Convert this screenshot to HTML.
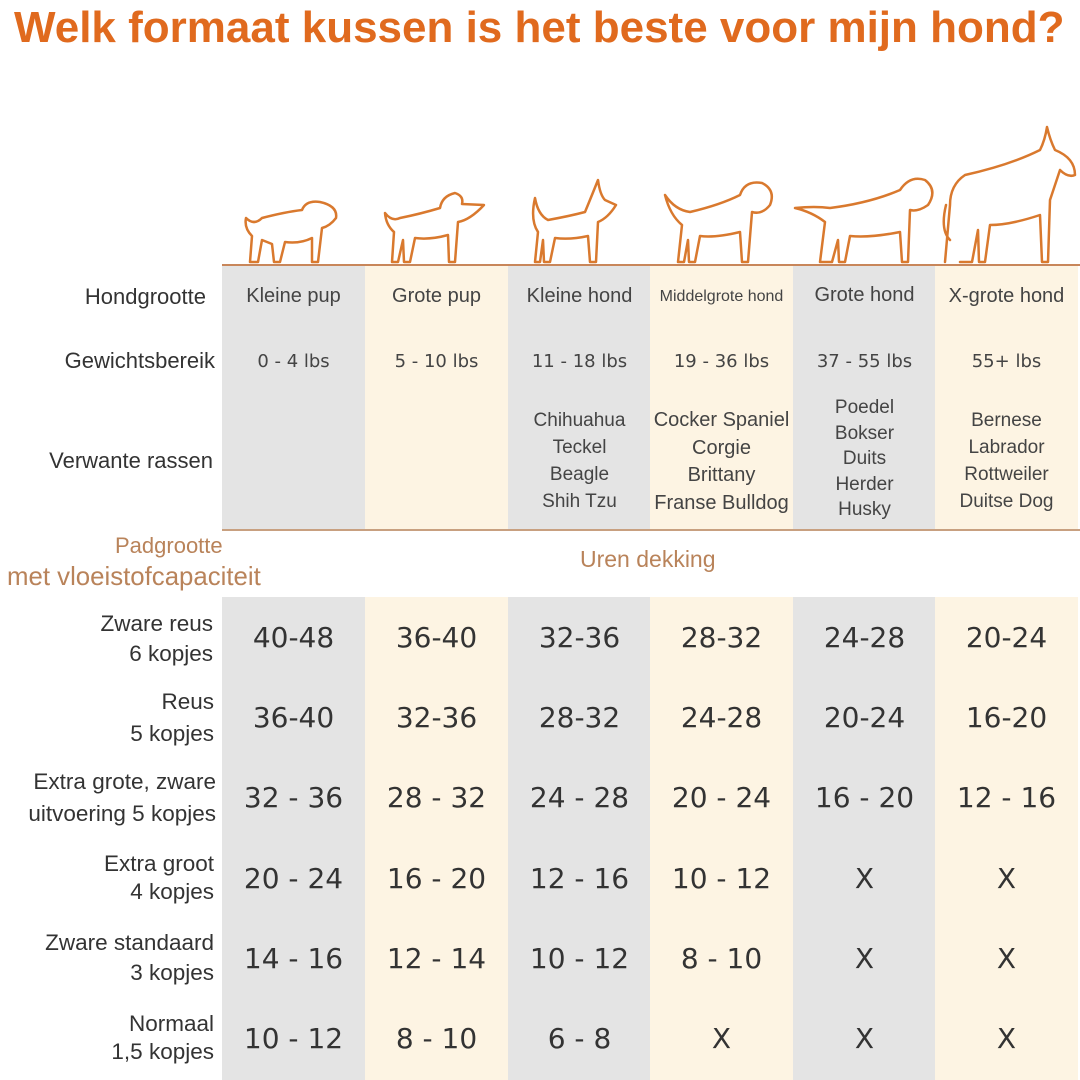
<!DOCTYPE html>
<html><head><meta charset="utf-8"><style>
body{margin:0;width:1080px;height:1080px;background:#fff;position:relative;overflow:hidden;font-family:"Liberation Sans",sans-serif;color:#444}
.a{position:absolute}
.col{position:absolute;width:143px}
.g{background:#e4e4e4}.c{background:#fdf4e3}
.t{position:absolute;text-align:center;width:143px}
.lbl{position:absolute;right:864px;text-align:right;font-size:22.5px;line-height:30px;color:#333;white-space:nowrap}
.v{position:absolute;width:143px;text-align:center;font-size:28px;color:#333;font-family:"DejaVu Sans","Liberation Sans",sans-serif}
</style></head><body>
<div class="a" style="left:14px;top:3px;font-size:44px;font-weight:bold;color:#e06a1e;white-space:nowrap">Welk formaat kussen is het beste voor mijn hond?</div>

<div class="col g" style="left:222px;top:266px;height:263px"></div>
<div class="col c" style="left:365px;top:266px;height:263px"></div>
<div class="col g" style="left:508px;top:266px;height:263px"></div>
<div class="col c" style="left:650px;top:266px;height:263px"></div>
<div class="col g" style="left:793px;top:266px;height:263px"></div>
<div class="col c" style="left:935px;top:266px;height:263px"></div>
<div class="a" style="left:222px;top:264px;width:858px;height:2px;background:#c8865a"></div>
<div class="a" style="left:222px;top:529px;width:858px;height:2px;background:#c8a080"></div>

<div class="col g" style="left:222px;top:597px;height:483px"></div>
<div class="col c" style="left:365px;top:597px;height:483px"></div>
<div class="col g" style="left:508px;top:597px;height:483px"></div>
<div class="col c" style="left:650px;top:597px;height:483px"></div>
<div class="col g" style="left:793px;top:597px;height:483px"></div>
<div class="col c" style="left:935px;top:597px;height:483px"></div>

<svg class="a" style="left:0;top:0" width="1080" height="270" fill="none" stroke="#d9792e" stroke-width="2.5" stroke-linejoin="round" stroke-linecap="round">
<path d="M250 262 L252 236 Q244 228 246 218 Q254 226 262 218 Q285 212 302 210 Q306 200 320 202 Q338 206 336 218 Q330 226 322 228 L318 262 L312 262 L312 238 Q300 244 285 242 L280 262 L274 262 L272 244 L262 240 L258 262 Z"/>
<path d="M392 262 L394 232 Q386 225 385 213 Q392 222 400 218 Q420 214 440 208 Q442 196 455 193 Q464 196 462 204 L484 205 Q470 220 458 222 L455 262 L449 262 L448 235 Q430 240 415 238 L410 262 L404 262 L403 240 L398 262 Z"/>
<path d="M535 262 L538 232 Q530 220 535 198 Q538 215 548 220 Q570 216 585 212 Q590 200 598 180 Q600 195 605 200 L616 205 Q608 218 598 222 L596 262 L590 262 L588 236 Q570 240 555 238 L550 262 L544 262 L543 240 L540 262 Z"/>
<path d="M678 262 L682 225 Q670 215 665 195 Q675 210 690 212 Q720 205 740 195 Q745 180 762 183 Q776 190 770 205 Q762 215 752 212 L748 262 L742 262 L740 232 Q715 238 700 236 L695 262 L689 262 L688 240 L684 262 Z"/>
<path d="M820 262 L825 222 Q812 212 795 208 Q815 206 830 208 Q870 203 900 190 Q910 175 925 180 Q938 190 928 205 Q918 212 910 210 L908 262 L902 262 L900 232 Q870 238 850 236 L845 262 L839 262 L838 240 L832 262 Z"/>
<path d="M945 262 L950 205 Q950 185 965 175 Q1010 165 1040 150 Q1045 140 1047 127 Q1050 140 1055 150 Q1075 158 1075 175 Q1068 178 1060 170 Q1055 185 1050 200 L1048 262 L1042 262 L1040 215 Q1010 225 990 225 L985 262 L979 262 L978 230 L972 262 L960 262 M950 240 Q940 230 946 205"/>
</svg>

<div class="lbl" style="top:282px;right:874px;font-size:22px">Hondgrootte</div>
<div class="lbl" style="top:346px;right:865px;font-size:22px">Gewichtsbereik</div>
<div class="lbl" style="top:446px;right:867px;font-size:22px">Verwante rassen</div>

<div class="t" style="left:222px;top:285px;font-size:20px">Kleine pup</div>
<div class="t" style="left:365px;top:285px;font-size:20px">Grote pup</div>
<div class="t" style="left:508px;top:285px;font-size:20px">Kleine hond</div>
<div class="t" style="left:650px;top:288px;font-size:16px">Middelgrote hond</div>
<div class="t" style="left:793px;top:284px;font-size:20px">Grote hond</div>
<div class="t" style="left:935px;top:285px;font-size:20px">X-grote hond</div>

<div class="t" style="left:222px;top:351px;font-size:18px;font-family:'DejaVu Sans',sans-serif">0 - 4 lbs</div>
<div class="t" style="left:365px;top:351px;font-size:18px;font-family:'DejaVu Sans',sans-serif">5 - 10 lbs</div>
<div class="t" style="left:508px;top:351px;font-size:18px;font-family:'DejaVu Sans',sans-serif">11 - 18 lbs</div>
<div class="t" style="left:650px;top:351px;font-size:18px;font-family:'DejaVu Sans',sans-serif">19 - 36 lbs</div>
<div class="t" style="left:793px;top:351px;font-size:18px;font-family:'DejaVu Sans',sans-serif">37 - 55 lbs</div>
<div class="t" style="left:935px;top:351px;font-size:18px;font-family:'DejaVu Sans',sans-serif">55+ lbs</div>

<div class="t" style="left:508px;top:407px;font-size:19px;line-height:27px">Chihuahua<br>Teckel<br>Beagle<br>Shih Tzu</div>
<div class="t" style="left:650px;top:407px;font-size:20px;line-height:27.5px">Cocker Spaniel<br>Corgie<br>Brittany<br>Franse Bulldog</div>
<div class="t" style="left:793px;top:395px;font-size:19px;line-height:25.5px">Poedel<br>Bokser<br>Duits<br>Herder<br>Husky</div>
<div class="t" style="left:935px;top:407px;font-size:19px;line-height:27px">Bernese<br>Labrador<br>Rottweiler<br>Duitse Dog</div>

<div class="a" style="left:115px;top:533px;font-size:22px;color:#b9835a;white-space:nowrap">Padgrootte</div>
<div class="a" style="left:7px;top:563px;font-size:25.8px;color:#b9835a;white-space:nowrap">met vloeistofcapaciteit</div>
<div class="a" style="left:580px;top:546px;font-size:23px;color:#b9835a">Uren dekking</div>

<div class="lbl" style="top:609px;right:867px">Zware reus<br>6 kopjes</div>
<div class="lbl" style="top:686px;line-height:32px;right:866px">Reus<br>5 kopjes</div>
<div class="lbl" style="top:766px;line-height:32px">Extra grote, zware<br>uitvoering 5 kopjes</div>
<div class="lbl" style="top:850px;line-height:28px;right:866px">Extra groot<br>4 kopjes</div>
<div class="lbl" style="top:928px;line-height:30px;right:866px">Zware standaard<br>3 kopjes</div>
<div class="lbl" style="top:1010px;line-height:28px;right:866px">Normaal<br>1,5 kopjes</div>

<div class="v" style="left:222px;top:621px">40-48</div><div class="v" style="left:365px;top:621px">36-40</div><div class="v" style="left:508px;top:621px">32-36</div><div class="v" style="left:650px;top:621px">28-32</div><div class="v" style="left:793px;top:621px">24-28</div><div class="v" style="left:935px;top:621px">20-24</div>
<div class="v" style="left:222px;top:701px">36-40</div><div class="v" style="left:365px;top:701px">32-36</div><div class="v" style="left:508px;top:701px">28-32</div><div class="v" style="left:650px;top:701px">24-28</div><div class="v" style="left:793px;top:701px">20-24</div><div class="v" style="left:935px;top:701px">16-20</div>
<div class="v" style="left:222px;top:781px">32 - 36</div><div class="v" style="left:365px;top:781px">28 - 32</div><div class="v" style="left:508px;top:781px">24 - 28</div><div class="v" style="left:650px;top:781px">20 - 24</div><div class="v" style="left:793px;top:781px">16 - 20</div><div class="v" style="left:935px;top:781px">12 - 16</div>
<div class="v" style="left:222px;top:862px">20 - 24</div><div class="v" style="left:365px;top:862px">16 - 20</div><div class="v" style="left:508px;top:862px">12 - 16</div><div class="v" style="left:650px;top:862px">10 - 12</div><div class="v" style="left:793px;top:862px">X</div><div class="v" style="left:935px;top:862px">X</div>
<div class="v" style="left:222px;top:942px">14 - 16</div><div class="v" style="left:365px;top:942px">12 - 14</div><div class="v" style="left:508px;top:942px">10 - 12</div><div class="v" style="left:650px;top:942px">8 - 10</div><div class="v" style="left:793px;top:942px">X</div><div class="v" style="left:935px;top:942px">X</div>
<div class="v" style="left:222px;top:1022px">10 - 12</div><div class="v" style="left:365px;top:1022px">8 - 10</div><div class="v" style="left:508px;top:1022px">6 - 8</div><div class="v" style="left:650px;top:1022px">X</div><div class="v" style="left:793px;top:1022px">X</div><div class="v" style="left:935px;top:1022px">X</div>
</body></html>
